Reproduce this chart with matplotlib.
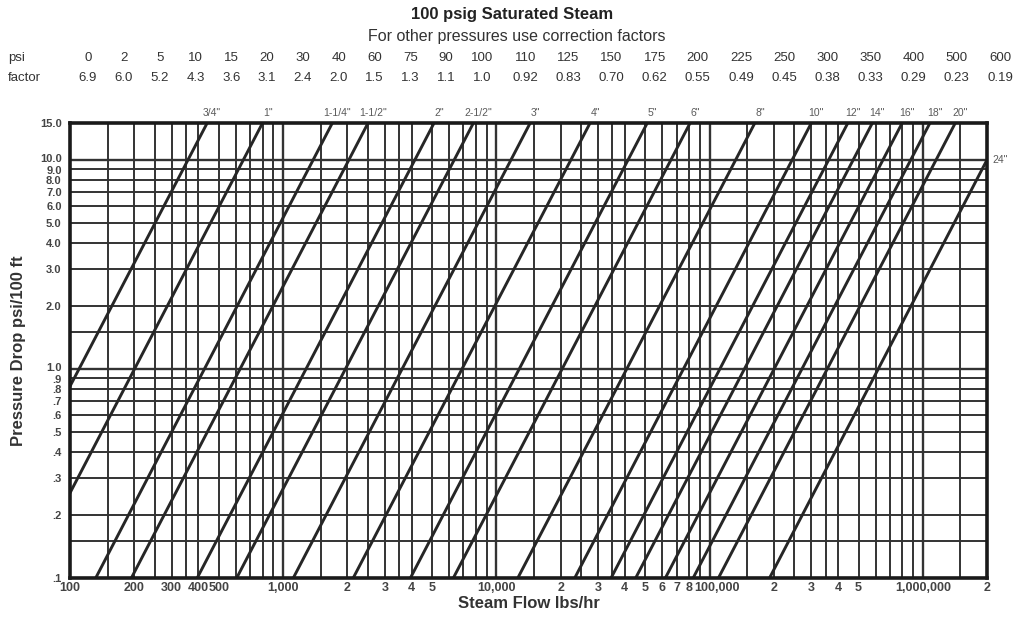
import numpy as np
import matplotlib
matplotlib.use('Agg')
import matplotlib.pyplot as plt
import matplotlib.transforms as mtransforms
from matplotlib.ticker import NullLocator

plt.rcParams['font.family'] = ['Liberation Sans', 'DejaVu Sans']

# ---------------------------------------------------------------
# data
# ---------------------------------------------------------------
psi_values = ['0', '2', '5', '10', '15', '20', '30', '40', '60', '75', '90',
              '100', '110', '125', '150', '175', '200', '225', '250', '300',
              '350', '400', '500', '600']
factors = ['6.9', '6.0', '5.2', '4.3', '3.6', '3.1', '2.4', '2.0', '1.5', '1.3', '1.1',
           '1.0', '0.92', '0.83', '0.70', '0.62', '0.55', '0.49', '0.45', '0.38',
           '0.33', '0.29', '0.23', '0.19']

pipe_sizes = ['3/4"', '1"', '1-1/4"', '1-1/2"', '2"', '2-1/2"', '3"', '4"', '5"', '6"',
              '8"', '10"', '12"', '14"', '16"', '18"', '20"', '24"']
# steam flow (lbs/hr) where each pipe line sits at 15 psi/100 ft and at 0.1 psi/100 ft
flow_at_15psi = [440, 800, 1700, 2500, 5100, 7800, 14400, 27500, 51000, 81000,
                 163000, 300000, 445000, 580000, 800000, 1080000, 1420000, 2460000]
flow_at_01psi = [34, 62, 132, 194, 395, 605, 1115, 2130, 3950, 6280,
                 12600, 23300, 34500, 45000, 62000, 83700, 110000, 191000]

x_ticks = [100, 200, 300, 400, 500, 1000, 2000, 3000, 4000, 5000, 10000, 20000,
           30000, 40000, 50000, 60000, 70000, 80000, 100000, 200000, 300000,
           400000, 500000, 1000000, 2000000]
x_tick_labels = ['100', '200', '300', '400', '500', '1,000', '2', '3', '4', '5',
                 '10,000', '2', '3', '4', '5', '6', '7', '8', '100,000', '2', '3',
                 '4', '5', '1,000,000', '2']
y_ticks = [0.1, 0.2, 0.3, 0.4, 0.5, 0.6, 0.7, 0.8, 0.9, 1.0,
           2, 3, 4, 5, 6, 7, 8, 9, 10, 15]
y_tick_labels = ['.1', '.2', '.3', '.4', '.5', '.6', '.7', '.8', '.9', '1.0',
                 '2.0', '3.0', '4.0', '5.0', '6.0', '7.0', '8.0', '9.0', '10.0', '15.0']

# ---------------------------------------------------------------
# figure
# ---------------------------------------------------------------
W, H = 1019, 618
ink = '#262626'
grid_col = '#333333'

fig = plt.figure(figsize=(W / 100, H / 100), dpi=100)
ax = fig.add_axes([70 / W, 40 / H, 917 / W, 455 / H])
ax.set_xscale('log')
ax.set_yscale('log')
ax.set_xlim(100, 2e6)
ax.set_ylim(0.1, 15)

# log grid paper
x_mult = [1, 1.5, 2, 2.5, 3, 3.5, 4, 5, 6, 7, 8, 9]
for k in range(2, 7):
    for m in x_mult:
        v = m * 10 ** k
        if 100 < v < 2e6:
            ax.axvline(v, color=grid_col, lw=1.7 if m == 1 else 1.4, zorder=1)
y_mult = [1, 1.5, 2, 3, 4, 5, 6, 7, 8, 9]
for k in range(-1, 2):
    for m in y_mult:
        v = m * 10 ** k
        if 0.1 < v < 15:
            ax.axhline(v, color=grid_col, lw=1.7 if m == 1 else 1.4, zorder=1)

# pipe size lines
for lo, hi in zip(flow_at_01psi, flow_at_15psi):
    ax.plot([lo, hi], [0.1, 15], color=ink, lw=2.1, zorder=3, solid_capstyle='butt')

# pipe size labels along the top, 24" on the right edge
top = mtransforms.blended_transform_factory(ax.transData, ax.transAxes)
shift = mtransforms.offset_copy(top, fig=fig, x=5, y=0, units='dots')
for name, hi in zip(pipe_sizes[:-1], flow_at_15psi[:-1]):
    ax.text(hi, 1.012, name, transform=shift, ha='center', va='bottom',
            fontsize=7.5, color='#5a5a5a')
ax.annotate(pipe_sizes[-1], xy=(1.0, 10), xycoords=('axes fraction', 'data'),
            xytext=(4, 0), textcoords='offset points', ha='left', va='center',
            fontsize=7.5, color='#5a5a5a', annotation_clip=False)

for s in ax.spines.values():
    s.set_linewidth(2.6)
    s.set_color('#1a1a1a')
    s.set_zorder(5)

ax.xaxis.set_minor_locator(NullLocator())
ax.yaxis.set_minor_locator(NullLocator())
ax.set_xticks(x_ticks, x_tick_labels)
ax.set_yticks(y_ticks, y_tick_labels)
ax.tick_params(axis='x', length=0, pad=3, colors='#444444', labelsize=9)
ax.tick_params(axis='y', length=0, pad=6, colors='#444444', labelsize=8)
for lab in ax.get_xticklabels() + ax.get_yticklabels():
    lab.set_fontweight('bold')

# the 100,000 label sits a little right of its line in the original
def nudge(lab, dx, dy):
    lab.set_transform(lab.get_transform() +
                      mtransforms.ScaledTranslation(dx / 100, dy / 100, fig.dpi_scale_trans))

nudge(ax.get_xticklabels()[x_tick_labels.index('100,000')], 7, 0)
ylabs = ax.get_yticklabels()
nudge(ylabs[y_tick_labels.index('10.0')], 0, 2)
nudge(ylabs[y_tick_labels.index('9.0')], 0, -1)
nudge(ylabs[y_tick_labels.index('1.0')], 0, 2)
nudge(ylabs[y_tick_labels.index('.9')], 0, -1)

ax.set_xlabel('Steam Flow lbs/hr', fontsize=12, fontweight='bold', color='#333333',
              labelpad=1)
ax.set_ylabel('Pressure Drop psi/100 ft', fontsize=12, fontweight='bold',
              color='#333333', labelpad=10)

# title block and correction factor table
fig.text(512 / W, 1 - 15 / H, '100 psig Saturated Steam', ha='center', va='center',
         fontsize=12, fontweight='bold', color='#222222')
fig.text(517 / W, 1 - 37 / H, 'For other pressures use correction factors',
         ha='center', va='center', fontsize=11.5, color='#333333')
fig.text(8 / W, 1 - 58 / H, 'psi', ha='left', va='center', fontsize=9.5, color='#333333')
fig.text(8 / W, 1 - 78 / H, 'factor', ha='left', va='center', fontsize=9.5,
         color='#333333')
col_x = list(np.linspace(88, 446, 11)) + list(np.linspace(482, 1000, 13))
for cx, p, f in zip(col_x, psi_values, factors):
    fig.text(cx / W, 1 - 58 / H, p, ha='center', va='center', fontsize=9.5,
             color='#333333')
    fig.text(cx / W, 1 - 78 / H, f, ha='center', va='center', fontsize=9.5,
             color='#333333')

fig.savefig('out.png', dpi=100, facecolor='white')
